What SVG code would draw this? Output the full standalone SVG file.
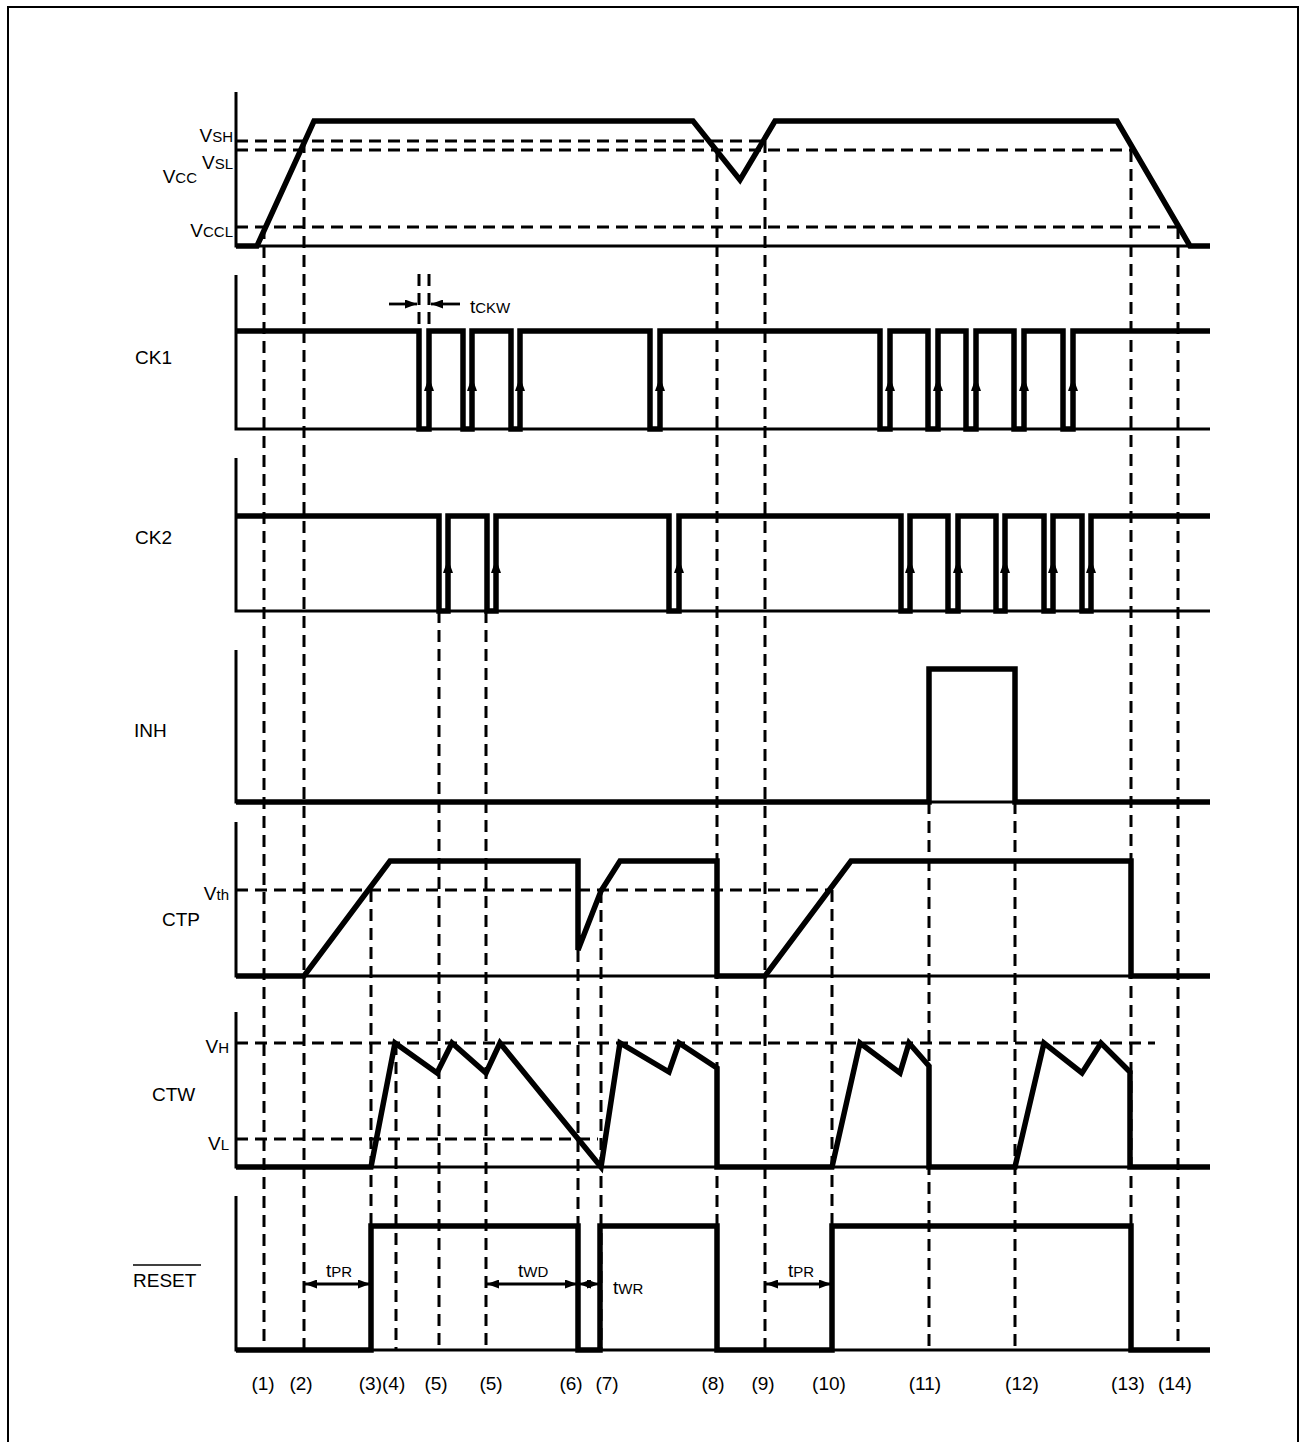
<svg xmlns="http://www.w3.org/2000/svg" width="1307" height="1442" viewBox="0 0 1307 1442">
<style>
text{font-family:"Liberation Sans",Arial,sans-serif;fill:#000}
.lbl{font-size:19px}
.sub{font-size:15px}
.num{font-size:19px;text-anchor:middle}
.sig{fill:none;stroke:#000;stroke-width:5.5;stroke-linejoin:miter;stroke-linecap:butt}
.ax{fill:none;stroke:#000;stroke-width:3}
.dash{fill:none;stroke:#000;stroke-width:3;stroke-dasharray:12 7}
.arr{fill:none;stroke:#000;stroke-width:2.8}
.edge{fill:#000;stroke:none}
</style>
<defs>
<marker id="ah" viewBox="0 0 12 9" refX="12" refY="4.5" markerWidth="12" markerHeight="9" markerUnits="userSpaceOnUse" orient="auto-start-reverse">
<path d="M0,0 L12,4.5 L0,9 Z" fill="#000"/>
</marker>
<path id="up" d="M0,0 L-5,14 L5,14 Z"/>
</defs>
<rect x="8" y="7" width="1290" height="1450" fill="#fff" stroke="#000" stroke-width="2"/>

<g id="connectors">
<path class="dash" d="M236,141H765 M236,150H1131 M236,227H1178 M236,890H832 M236,1043H1155 M236,1139H598"/>
<path class="dash" d="M264,227V1350 M304,141V1350 M371,890V1350 M396,1043V1350 M439,611V1350 M486,611V1350 M578,950V1350 M601,891V1350 M717,150V1350 M765,141V1350 M832,890V1350 M929,802V1350 M1015,802V1350 M1131,150V1350 M1178,227V1350"/>
<path class="dash" d="M419,274V330 M429,274V330"/>
<line class="arr" x1="389" y1="304" x2="417" y2="304" marker-end="url(#ah)"/>
<line class="arr" x1="460" y1="304" x2="431" y2="304" marker-end="url(#ah)"/>
<line class="arr" x1="305" y1="1284" x2="370" y2="1284" marker-start="url(#ah)" marker-end="url(#ah)"/>
<line class="arr" x1="487" y1="1284" x2="577" y2="1284" marker-start="url(#ah)" marker-end="url(#ah)"/>
<line class="arr" x1="579" y1="1284" x2="599" y2="1284" marker-start="url(#ah)" marker-end="url(#ah)"/>
<line class="arr" x1="766" y1="1284" x2="831" y2="1284" marker-start="url(#ah)" marker-end="url(#ah)"/>
</g>

<g id="vcc">
<path class="ax" d="M236,92V246H1210"/>
<path class="sig" d="M236,246H257L314,121H693L740,180L775,121H1117L1190,246H1210"/>
<text x="233" y="142" text-anchor="end" class="lbl">V<tspan class="sub">SH</tspan></text>
<text x="233" y="169" text-anchor="end" class="lbl">V<tspan class="sub">SL</tspan></text>
<text x="197" y="183" text-anchor="end" class="lbl">V<tspan class="sub">CC</tspan></text>
<text x="233" y="237" text-anchor="end" class="lbl">V<tspan class="sub">CCL</tspan></text>
</g>

<g id="ck1">
<path class="ax" d="M236,275V429H1210"/>
<path class="sig" d="M236,331H419V429H429V331H463V429H472V331H511V429H520V331H650V429H660V331H880V429H890V331H928V429H938V331H966V429H976V331H1014V429H1024V331H1063V429H1073V331H1210"/>
<g class="edge">
<use href="#up" x="429" y="377"/><use href="#up" x="472" y="377"/><use href="#up" x="520" y="377"/><use href="#up" x="660" y="377"/><use href="#up" x="890" y="377"/><use href="#up" x="938" y="377"/><use href="#up" x="976" y="377"/><use href="#up" x="1024" y="377"/><use href="#up" x="1073" y="377"/>
</g>
<text x="135" y="364" class="lbl">CK1</text>
<text x="470" y="313" class="lbl">t<tspan class="sub">CKW</tspan></text>
</g>

<g id="ck2">
<path class="ax" d="M236,458V611H1210"/>
<path class="sig" d="M236,516H439V611H448V516H487V611H496V516H669V611H679V516H901V611H910V516H948V611H958V516H996V611H1005V516H1044V611H1053V516H1082V611H1091V516H1210"/>
<g class="edge">
<use href="#up" x="448" y="559"/><use href="#up" x="496" y="559"/><use href="#up" x="679" y="559"/><use href="#up" x="910" y="559"/><use href="#up" x="958" y="559"/><use href="#up" x="1005" y="559"/><use href="#up" x="1053" y="559"/><use href="#up" x="1091" y="559"/>
</g>
<text x="135" y="544" class="lbl">CK2</text>
</g>

<g id="inh">
<path class="ax" d="M236,650V802H1210"/>
<path class="sig" d="M236,802H929V669H1015V802H1210"/>
<text x="134" y="737" class="lbl">INH</text>
</g>

<g id="ctp">
<path class="ax" d="M236,822V976H1210"/>
<path class="sig" d="M236,976H304L390,861H578V950L601,891L620,861H717V976H765L851,861H1131V976H1210"/>
<text x="229" y="900" text-anchor="end" class="lbl">V<tspan class="sub">th</tspan></text>
<text x="162" y="926" class="lbl">CTP</text>
</g>

<g id="ctw">
<path class="ax" d="M236,1012V1167H1210"/>
<path class="sig" d="M236,1167H371L395,1043L437,1073L452,1043L486,1073L500,1043L601,1167L620,1043L669,1072L679,1043L717,1068V1167H832L860,1043L900,1073L909,1043L929,1066V1167H1015L1044,1043L1082,1073L1101,1043L1130,1072V1167H1210"/>
<text x="229" y="1053" text-anchor="end" class="lbl">V<tspan class="sub">H</tspan></text>
<text x="152" y="1101" class="lbl">CTW</text>
<text x="229" y="1150" text-anchor="end" class="lbl">V<tspan class="sub">L</tspan></text>
</g>

<g id="reset">
<path class="ax" d="M236,1196V1350H1210"/>
<path class="sig" d="M236,1350H371V1226H578V1350H600V1226H717V1350H832V1226H1131V1350H1210"/>
<text x="133" y="1287" class="lbl">RESET</text>
<line x1="133" y1="1265" x2="201" y2="1265" stroke="#000" stroke-width="1.6"/>
<text x="326" y="1277" class="lbl">t<tspan class="sub">PR</tspan></text>
<text x="518" y="1277" class="lbl">t<tspan class="sub">WD</tspan></text>
<text x="613" y="1294" class="lbl">t<tspan class="sub">WR</tspan></text>
<text x="788" y="1277" class="lbl">t<tspan class="sub">PR</tspan></text>
</g>

<g id="markers">
<text x="263" y="1390" class="num">(1)</text>
<text x="301" y="1390" class="num">(2)</text>
<text x="382" y="1390" class="num">(3)(4)</text>
<text x="436" y="1390" class="num">(5)</text>
<text x="491" y="1390" class="num">(5)</text>
<text x="571" y="1390" class="num">(6)</text>
<text x="607" y="1390" class="num">(7)</text>
<text x="713" y="1390" class="num">(8)</text>
<text x="763" y="1390" class="num">(9)</text>
<text x="829" y="1390" class="num">(10)</text>
<text x="925" y="1390" class="num">(11)</text>
<text x="1022" y="1390" class="num">(12)</text>
<text x="1128" y="1390" class="num">(13)</text>
<text x="1175" y="1390" class="num">(14)</text>
</g>
</svg>
